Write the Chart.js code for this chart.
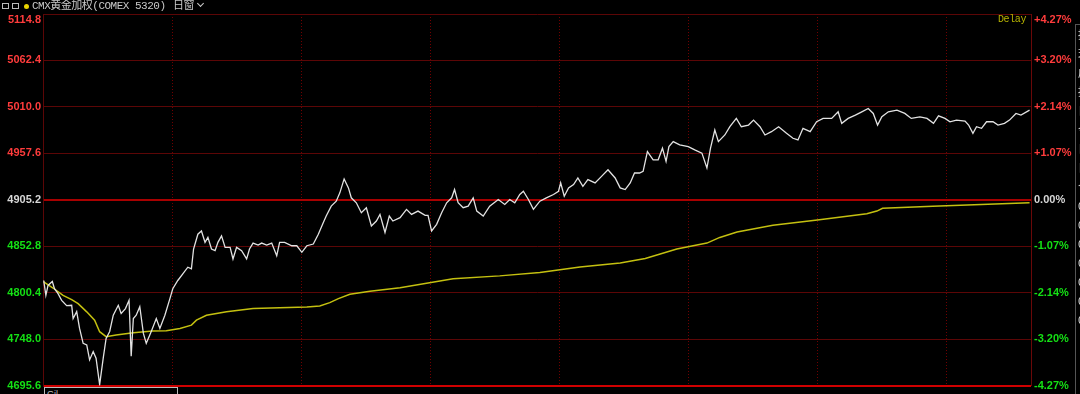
<!DOCTYPE html>
<html>
<head>
<meta charset="utf-8">
<script src="https://cdn.jsdelivr.net/npm/chart.js@4"></script>
<style>
  body { margin: 0; background: #000; }
  #wrap { position: relative; width: 1080px; height: 394px; background: #000; overflow: hidden; }
  #titulo { position: absolute; left: 0; top: 0; height: 12px; line-height: 12px; color: #c8c8c8;
    font-family: "Liberation Mono", "Noto Sans CJK SC", monospace; font-size: 11px; letter-spacing: -0.5px; white-space: nowrap; }
  .icone { position: absolute; top: 3px; width: 5px; height: 4px; border: 1px solid #bbb; }
  .ponto { position: absolute; left: 24px; top: 4px; width: 5px; height: 5px; border-radius: 50%; background: #e8d400; }
  .seta { position: absolute; left: 198px; top: 1px; width: 4px; height: 4px; border-right: 1px solid #ccc; border-bottom: 1px solid #ccc; transform: rotate(45deg); }
  #delay { position: absolute; left: 998px; top: 14px; color: #b8b400; font-family: "Liberation Mono", monospace; font-size: 10px; letter-spacing: -0.4px; }
  #caixa { position: absolute; left: 44px; top: 387px; width: 134px; height: 10px; border: 1px solid #bbb; background: #000;
    color: #bbb; font: 9px "Liberation Sans", sans-serif; line-height: 12px; padding-left: 2px; box-sizing: border-box; }
  #painel { position: absolute; left: 1075px; top: 24px; width: 10px; height: 370px; border-left: 1px solid #555; border-top: 1px solid #555;
    color: #ddd; font: 11px "Noto Sans CJK SC", sans-serif; line-height: 19px; padding-left: 2px; }
</style>
</head>
<body>
<div id="wrap">
  <canvas id="grafico" width="1080" height="394"></canvas>
  <div id="titulo">
    <span class="icone" style="left:2px"></span><span class="icone" style="left:12px"></span>
    <span class="ponto"></span>
    <span style="position:absolute;left:32px;">CMX黄金加权(COMEX 5320)</span>
    <span style="position:absolute;left:173px;">日窗</span>
    <span class="seta"></span>
  </div>
  <div id="delay">Delay</div>
  <div id="caixa">Gil</div>
  <div id="painel">持<br>现<br>成<br>持<br>日<br>今<br>日<br>日<br>合<br>0<br>0<br>0<br>0<br>0<br>0<br>0</div>
</div>
<script>
// preço de fechamento anterior (linha 0.00%)
const fechamentoAnterior = 4905.2;
const ticksPreco = [4695.6, 4748.0, 4800.4, 4852.8, 4905.2, 4957.6, 5010.0, 5062.4, 5114.8];
const marcasSessao = [180, 360, 540, 720, 900, 1080, 1260]; // minutos
const duracaoSessao = 1378;

// linha branca - preço
const tempoPreco = [1, 4, 7, 13, 16, 21, 26, 33, 40, 42, 47, 51, 56, 61, 65, 70, 74, 79, 84, 88,
  93, 98, 105, 109, 115, 120, 123, 126, 130, 135, 140, 144, 151, 158, 163, 170, 177, 181, 188, 195,
  202, 207, 210, 216, 221, 226, 230, 235, 240, 244, 249, 254, 261, 265, 270, 277, 284, 288, 293, 300,
  305, 312, 319, 326, 330, 337, 347, 354, 361, 368, 377, 384, 391, 395, 402, 409, 414, 420, 426, 430,
  437, 444, 451, 458, 465, 470, 477, 483, 488, 498, 507, 514, 523, 533, 537, 542, 549, 556, 563, 570,
  574, 579, 586, 593, 600, 605, 614, 623, 635, 644, 651, 658, 665, 670, 677, 684, 693, 702, 712, 719,
  722, 727, 733, 740, 746, 753, 760, 770, 779, 788, 798, 805, 812, 819, 825, 832, 837, 843, 851, 858,
  864, 869, 873, 879, 888, 900, 909, 919, 926, 931, 937, 942, 951, 958, 967, 974, 984, 991, 1000, 1007,
  1016, 1026, 1037, 1046, 1053, 1060, 1070, 1079, 1088, 1100, 1109, 1114, 1123, 1133, 1142, 1151, 1158, 1164, 1170, 1179,
  1191, 1202, 1211, 1223, 1233, 1242, 1249, 1258, 1265, 1274, 1286, 1291, 1297, 1302, 1309, 1316, 1325, 1332, 1341, 1348,
  1357, 1364, 1376];
const valoresPreco = [4814.1, 4797.3, 4808.5, 4812.9, 4804.8, 4799.2, 4791.7, 4785.7, 4786.1, 4771.2, 4779.0, 4760.0, 4743.2, 4741.3, 4724.5, 4733.9, 4726.4, 4696.5, 4726.4, 4748.8,
  4756.6, 4774.9, 4786.1, 4776.8, 4782.4, 4791.7, 4728.6, 4771.2, 4774.9, 4784.6, 4754.4, 4743.2, 4756.6, 4771.2, 4760.0, 4774.9, 4793.6, 4804.8, 4814.1, 4821.6,
  4829.1, 4827.2, 4849.6, 4866.3, 4870.0, 4857.1, 4862.7, 4849.6, 4847.7, 4857.1, 4864.4, 4851.5, 4851.5, 4838.4, 4851.5, 4847.7, 4838.4, 4849.6, 4856.3, 4854.0,
  4856.3, 4854.0, 4856.3, 4842.1, 4857.1, 4857.1, 4853.3, 4853.3, 4845.9, 4853.3, 4855.2, 4866.3, 4879.5, 4886.8, 4898.0, 4903.6, 4913.0, 4928.7, 4918.6, 4907.4,
  4901.8, 4890.6, 4896.2, 4875.6, 4881.2, 4888.7, 4868.3, 4886.8, 4881.2, 4885.0, 4894.3, 4888.7, 4892.4, 4887.6, 4887.6, 4870.0, 4877.5, 4890.6, 4901.8, 4907.4,
  4916.7, 4901.8, 4896.2, 4898.0, 4907.4, 4892.4, 4886.8, 4898.0, 4905.5, 4899.9, 4905.5, 4901.8, 4911.1, 4914.8, 4905.5, 4894.3, 4903.6, 4907.4, 4911.1, 4914.8,
  4924.2, 4909.2, 4918.6, 4922.3, 4929.8, 4920.4, 4927.9, 4924.2, 4931.6, 4939.1, 4929.8, 4918.6, 4916.7, 4924.2, 4935.4, 4935.4, 4937.2, 4959.6, 4950.3, 4950.3,
  4963.4, 4948.4, 4965.2, 4970.8, 4967.1, 4965.2, 4961.5, 4957.8, 4941.0, 4963.4, 4983.9, 4970.8, 4978.3, 4987.6, 4997.0, 4987.6, 4989.5, 4995.1, 4987.6, 4978.3,
  4982.0, 4987.6, 4980.2, 4974.6, 4972.7, 4985.8, 4982.0, 4993.2, 4997.0, 4997.0, 5004.4, 4991.4, 4997.0, 5000.7, 5004.4, 5008.2, 5002.6, 4989.5, 4998.8, 5004.4,
  5006.3, 5002.6, 4997.0, 4998.8, 4997.0, 4991.4, 4999.9, 4997.0, 4993.2, 4995.1, 4994.0, 4989.5, 4980.2, 4987.6, 4985.8, 4993.2, 4993.2, 4989.5, 4991.4, 4995.1,
  5002.6, 5000.7, 5006.3];

// linha amarela - preço médio
const tempoMedia = [1, 14, 28, 40, 49, 61, 72, 79, 88, 102, 126, 153, 172, 191, 207, 214, 228, 256, 293, 330,
  368, 386, 400, 412, 428, 456, 498, 572, 637, 693, 749, 805, 840, 884, 926, 944, 968, 1018, 1080, 1149,
  1163, 1171, 1241, 1376];
const valoresMedia = [4812.6, 4805.6, 4797.3, 4792.5, 4788.0, 4778.7, 4769.3, 4756.3, 4750.7, 4752.5, 4755.2, 4757.0, 4757.4, 4760.0, 4763.7, 4769.3, 4774.9, 4778.7, 4782.4, 4783.2,
  4784.3, 4785.4, 4789.1, 4793.6, 4798.6, 4802.0, 4805.9, 4816.0, 4819.3, 4823.2, 4829.4, 4833.9, 4838.9, 4849.6, 4856.3, 4862.7, 4868.9, 4876.4, 4882.4, 4889.5,
  4892.4, 4895.5, 4898.0, 4901.8];

const perto = (a, b) => Math.abs(a - b) < 0.05;

function corTick(ctx) {
    const v = ctx.tick.value;
    if (perto(v, fechamentoAnterior)) return '#d8d8d8';
    return v > fechamentoAnterior ? '#ff3c3c' : '#14e014';
}

// coloca o rótulo do topo um pouco abaixo da linha
function rotulo(v, texto) {
    return perto(v, ticksPreco[ticksPreco.length - 1]) ? ['', texto] : texto;
}

const fonteTick = { family: '"Liberation Sans", Arial, sans-serif', size: 11, weight: 'bold', lineHeight: 1 };

const dados = {
    datasets: [{
        label: 'Preço',
        data: tempoPreco.map((t, i) => ({ x: t, y: valoresPreco[i] })),
        borderColor: '#e2e2e2',
        borderWidth: 1.3,
        pointRadius: 0,
        yAxisID: 'y'
    }, {
        label: 'Média',
        data: tempoMedia.map((t, i) => ({ x: t, y: valoresMedia[i] })),
        borderColor: '#c4c010',
        borderWidth: 1.5,
        pointRadius: 0,
        yAxisID: 'y'
    }]
};

const config = {
    type: 'line',
    data: dados,
    options: {
        responsive: false,
        animation: false,
        layout: { padding: { top: 13, left: 0, right: 0, bottom: 0 } },
        scales: {
            x: {
                type: 'linear',
                min: 0,
                max: duracaoSessao,
                afterBuildTicks: s => { s.ticks = marcasSessao.map(v => ({ value: v })); },
                afterFit: s => { s.height = 6; },
                ticks: { display: false },
                grid: { color: '#700000', lineWidth: 1, drawTicks: false },
                border: { display: false, dash: [1, 2] }
            },
            y: {
                position: 'left',
                min: ticksPreco[0],
                max: ticksPreco[ticksPreco.length - 1],
                afterBuildTicks: s => { s.ticks = ticksPreco.map(v => ({ value: v })); },
                afterFit: s => { s.width = 43; },
                ticks: {
                    color: corTick,
                    font: fonteTick,
                    padding: 2,
                    callback: v => rotulo(v, v.toFixed(1))
                },
                grid: {
                    drawTicks: false,
                    color: ctx => {
                        const v = ctx.tick.value;
                        if (perto(v, fechamentoAnterior)) return '#a80000';
                        if (perto(v, ticksPreco[0])) return '#d00000';
                        return '#5c0606';
                    },
                    lineWidth: ctx => {
                        const v = ctx.tick.value;
                        return (perto(v, fechamentoAnterior) || perto(v, ticksPreco[0])) ? 2 : 1;
                    }
                },
                border: { display: true, color: '#5c0606', width: 1 }
            },
            y2: {
                position: 'right',
                min: ticksPreco[0],
                max: ticksPreco[ticksPreco.length - 1],
                afterBuildTicks: s => { s.ticks = ticksPreco.map(v => ({ value: v })); },
                afterFit: s => { s.width = 49; },
                ticks: {
                    color: corTick,
                    font: fonteTick,
                    padding: 3,
                    callback: v => {
                        const pct = (v - fechamentoAnterior) / fechamentoAnterior * 100;
                        const txt = (pct > 0.001 ? '+' : '') + pct.toFixed(2) + '%';
                        return rotulo(v, txt);
                    }
                },
                grid: { display: false, drawTicks: false },
                border: { display: true, color: '#6a0808', width: 1 }
            }
        },
        plugins: {
            legend: { display: false },
            tooltip: { enabled: false }
        }
    }
};

const chart = new Chart(document.getElementById('grafico').getContext('2d'), config);
</script>
</body>
</html>
